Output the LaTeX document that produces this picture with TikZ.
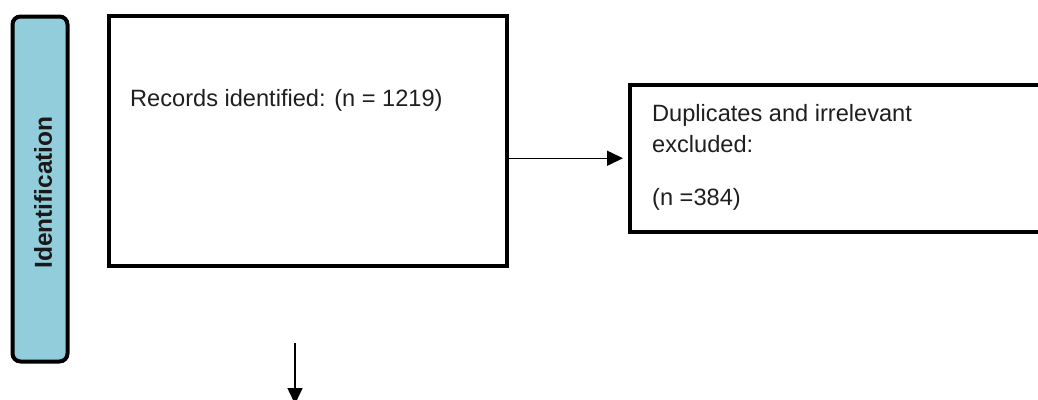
\documentclass[tikz,border=0pt]{standalone}
\usepackage{fontspec}
\setmainfont{Liberation Sans}
\usetikzlibrary{arrows.meta}
\definecolor{phase}{HTML}{92CDDC}
\begin{document}
\begin{tikzpicture}[x=1pt,y=-1pt,
  box/.style={draw=black,line width=4pt,inner sep=0pt,fill=white},
  phasebox/.style={draw=black,line width=4pt,inner sep=0pt,fill=phase,rounded corners=8pt},
  boxtext/.style={anchor=base west,inner sep=0pt,font=\fontsize{23.6}{28}\selectfont,text=black!88},
  flow/.style={line width=1.5pt,-{Triangle[length=16pt,width=15pt]}}]
  \useasboundingbox (0,0) rectangle (1038,399);
  \clip (0,0) rectangle (1038,399);

  % phase label
  \node[phasebox,minimum width=55pt,minimum height=345pt] (phase) at (40,189) {};
  \node[rotate=90,inner sep=0pt,font=\fontsize{24.5}{28}\selectfont\bfseries,text=black!90] (phaselabel) at (43,192.5) {Identification};

  % boxes
  \node[box,minimum width=398pt,minimum height=250.5pt] (records) at (308,140.75) {};
  \node[boxtext] (recordstext) at (130,106) {Records identified: (n = 1219)};

  \node[box,minimum width=430pt,minimum height=146.5pt] (dups) at (845,158.25) {};
  \node[boxtext] (dupsline1) at (652,121) {Duplicates and irrelevant};
  \node[boxtext] (dupsline2) at (652,152) {excluded:};
  \node[boxtext] (dupsline3) at (652,205) {(n =384)};

  % connectors
  \draw[flow,shorten >=5pt] (dups.west -| records.east) -- (dups.west);
  \coordinate (downstart) at (295,343);
  \coordinate (downend) at (295,404);
  \draw[flow] (downstart) -- (downend);
\end{tikzpicture}
\end{document}
